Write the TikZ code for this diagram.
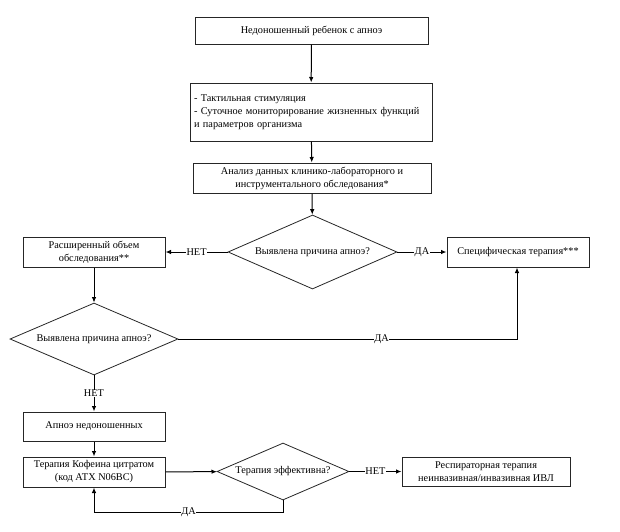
\documentclass[tikz,border=0pt]{standalone}
\usepackage{fontspec}
\setmainfont{Liberation Serif}
\usetikzlibrary{arrows.meta,shapes.geometric,shadows}
\begin{document}
\begin{tikzpicture}[x=1pt,y=-1pt,
  font=\fontsize{10.3}{13}\selectfont,
  box/.style={draw=black!85,line width=1pt,fill=white,inner sep=2pt,align=center,
     drop shadow={shadow xshift=1pt,shadow yshift=-1pt,opacity=0.25}},
  dia/.style={draw=black!85,line width=0.8pt,fill=white,diamond,aspect=2.3,inner sep=0pt,align=center},
  arr/.style={draw=black,line width=1pt,-{Latex[length=5.5pt,width=4.5pt]}},
  lbl/.style={fill=white,inner sep=0.5pt}]
\useasboundingbox (0,0) rectangle (620,531);
\node[box,minimum width=233pt,minimum height=27pt] (b1) at (311.5,30.5) {Недоношенный ребенок с апноэ};
\node[box,minimum width=242pt,minimum height=58pt,align=left,text width=234pt,inner sep=4pt] (b2) at (311,112) {- Тактильная стимуляция\\- Суточное мониторирование жизненных функций\\и параметров организма};
\node[box,minimum width=238pt,minimum height=30pt] (b3) at (312,178) {Анализ данных клинико-лабораторного и\\инструментального обследования*};
\node[dia,minimum width=169pt,minimum height=74pt] (d1) at (312.5,252) {Выявлена причина апноэ?};
\node[box,minimum width=142pt,minimum height=30pt] (b4) at (94,252) {Расширенный объем\\обследования**};
\node[box,minimum width=142pt,minimum height=30pt] (b5) at (518,252) {Специфическая терапия***};
\node[dia,minimum width=168pt,minimum height=72pt] (d2) at (94,339) {Выявлена причина апноэ?};
\node[box,minimum width=142pt,minimum height=29pt] (b6) at (94,426.5) {Апноэ недоношенных};
\node[box,minimum width=142pt,minimum height=30pt] (b7) at (94,472) {Терапия Кофеина цитратом\\(код АТХ N06BC)};
\node[dia,minimum width=132pt,minimum height=57pt] (d3) at (283,471.5) {Терапия эффективна?};
\node[box,minimum width=168pt,minimum height=29pt] (b8) at (486,471.5) {Респираторная терапия\\неинвазивная/инвазивная ИВЛ};
\coordinate (c1) at (517,339);
\coordinate (c2) at (283,512);
\coordinate (c3) at (94,512);
\draw[arr] (b1) -- (b2);
\draw[arr] (b2) -- (b3);
\draw[arr] (b3) -- (d1);
\draw[arr] (d1) -- node[lbl]{НЕТ} (b4);
\draw[arr] (d1) -- node[lbl]{ДА} (b5);
\draw[arr] (b4) -- (d2);
\draw[arr] (d2.east) -- node[lbl,pos=0.6]{ДА} (c1) -- (c1 |- b5.south);
\draw[arr] (d2) -- node[lbl,pos=0.5]{НЕТ} (b6);
\draw[arr] (b6) -- (b7);
\draw[arr] (b7) -- (d3);
\draw[arr] (d3) -- node[lbl]{НЕТ} (b8);
\draw[arr] (d3.south) -- (c2) -- node[lbl]{ДА} (c3) -- (b7.south);
\end{tikzpicture}
\end{document}
